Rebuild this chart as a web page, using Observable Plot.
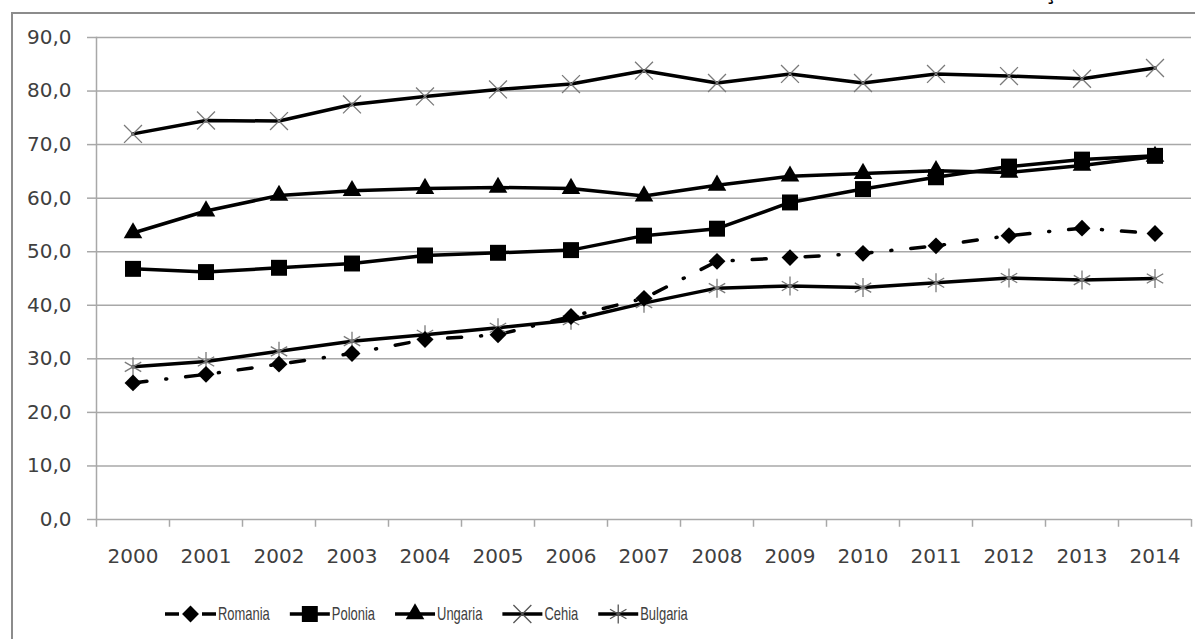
<!DOCTYPE html>
<html>
<head>
<meta charset="utf-8">
<script src="https://cdn.jsdelivr.net/npm/d3@7"></script>
<script src="https://cdn.jsdelivr.net/npm/@observablehq/plot@0.6"></script>
<style>
  html, body { margin: 0; padding: 0; background: #fff; }
  body { width: 1195px; height: 639px; overflow: hidden; position: relative; }
  #frame { position: absolute; left: 11px; top: 12px; width: 1400px; height: 900px; border: 2px solid #8c8c8c; box-sizing: border-box; }
  #chart { position: absolute; left: 0; top: 0; }
  #legend { position: absolute; left: 0; top: 594px; }
  #cut { position: absolute; left: 1046px; top: -19px; font: bold 20px "DejaVu Sans", sans-serif; color: #000; }
</style>
</head>
<body>
<div id="frame"></div>
<div id="cut">ţ</div>
<div id="chart"></div>
<svg id="legend" width="1195" height="40"></svg>
<script>
// ---- data ----
const years    = [2000, 2001, 2002, 2003, 2004, 2005, 2006, 2007, 2008, 2009, 2010, 2011, 2012, 2013, 2014];
const romania  = [25.5, 27.1, 29.0, 31.0, 33.6, 34.5, 37.9, 41.3, 48.2, 48.9, 49.7, 51.1, 53.0, 54.4, 53.4];
const polonia  = [46.8, 46.2, 47.0, 47.8, 49.3, 49.8, 50.3, 53.0, 54.3, 59.2, 61.7, 63.9, 65.9, 67.2, 67.9];
const ungaria  = [53.5, 57.6, 60.5, 61.4, 61.8, 62.0, 61.8, 60.4, 62.4, 64.1, 64.6, 65.1, 64.8, 66.1, 67.8];
const cehia    = [72.0, 74.5, 74.4, 77.5, 79.0, 80.3, 81.3, 83.8, 81.5, 83.2, 81.5, 83.2, 82.8, 82.3, 84.3];
const bulgaria = [28.5, 29.5, 31.4, 33.3, 34.5, 35.8, 37.2, 40.4, 43.2, 43.6, 43.3, 44.2, 45.1, 44.7, 45.0];
const seriesNames = ["Romania", "Polonia", "Ungaria", "Cehia", "Bulgaria"];
const yTicks = [0, 10, 20, 30, 40, 50, 60, 70, 80, 90];

// ---- build table ----
const seriesValues = [romania, polonia, ungaria, cehia, bulgaria];
const rows = seriesNames.flatMap((name, i) =>
  years.map((year, j) => ({series: name, year, value: seriesValues[i][j]})));
const of = name => rows.filter(d => d.series === name);
const bounds = years.map(y => y - 0.5).concat([years[years.length - 1] + 0.5]);

const GRID = "#a8a8a8";
const TEXT = "#404040";
const MARK_GRAY = "#7a7a7a";
const dashRomania = "14,19,1,19";

const chart = Plot.plot({
  width: 1195,
  height: 580,
  marginLeft: 96,
  marginRight: 4,
  marginTop: 37,
  marginBottom: 61,
  x: {domain: [bounds[0], bounds[bounds.length - 1]]},
  y: {domain: [0, 90]},
  style: {fontFamily: "'DejaVu Sans', sans-serif", fontSize: "20px", color: TEXT, background: "transparent", overflow: "visible"},
  marks: [
    Plot.gridY(yTicks, {stroke: GRID, strokeOpacity: 1, strokeWidth: 1.5}),
    Plot.frame({anchor: "left", stroke: GRID, strokeWidth: 1.5}),
    Plot.ruleX(bounds, {y1: 0, y2: -1.45, stroke: GRID, strokeWidth: 1.5}),
    Plot.axisY(yTicks, {tickSize: 9, tickPadding: 16, stroke: GRID, strokeWidth: 1.5, fill: TEXT, label: null,
      tickFormat: d => d.toFixed(1).replace(".", ",")}),
    Plot.axisX(years, {tickSize: 0, tickPadding: 29, fill: TEXT, label: null, tickFormat: d => String(d)}),
    // lines
    Plot.line(rows.filter(d => d.series !== "Romania"), {x: "year", y: "value", z: "series", stroke: "black", strokeWidth: 3.5, strokeLinejoin: "round"}),
    Plot.line(of("Romania"), {x: "year", y: "value", stroke: "black", strokeWidth: 3.5, strokeDasharray: dashRomania, strokeLinecap: "round"}),
    // markers
    Plot.dot(of("Cehia"), {x: "year", y: "value", symbol: "times", r: 8.2, stroke: MARK_GRAY, strokeWidth: 1.3, fill: "none"}),
    Plot.dot(of("Bulgaria"), {x: "year", y: "value", symbol: "asterisk", r: 9, stroke: MARK_GRAY, strokeWidth: 1.3, fill: "none"}),
    Plot.dot(of("Ungaria"), {x: "year", y: "value", symbol: "triangle", r: 6.9, fill: "black", stroke: "none"}),
    Plot.dot(of("Polonia"), {x: "year", y: "value", symbol: "square", r: 9, fill: "black", stroke: "none"}),
    Plot.dot(of("Romania"), {x: "year", y: "value", symbol: "diamond2", r: 7.6, fill: "black", stroke: "none"})
  ]
});
document.getElementById("chart").appendChild(chart);

// ---- legend ----
const legendSpec = [
  {name: "Romania",  symbol: d3.symbolDiamond2, r: 7.6, fill: "black", stroke: "none", dash: "14,23,14", w: 51},
  {name: "Polonia",  symbol: d3.symbolSquare,   r: 9,   fill: "black", stroke: "none", dash: null, w: 40},
  {name: "Ungaria",  symbol: d3.symbolTriangle, r: 6.9, fill: "black", stroke: "none", dash: null, w: 40},
  {name: "Cehia",    symbol: d3.symbolTimes,    r: 8.2, fill: "none",  stroke: "#555", dash: null, w: 40},
  {name: "Bulgaria", symbol: d3.symbolAsterisk, r: 9,   fill: "none",  stroke: "#555", dash: null, w: 40}
];
const legend = d3.select("#legend");
const cy = 20;
const textScale = 0.72;
let lx = 165;
for (const item of legendSpec) {
  const g = legend.append("g").attr("transform", `translate(${lx},${cy})`);
  g.append("line").attr("x1", 0).attr("x2", item.w).attr("y1", 0).attr("y2", 0)
    .attr("stroke", "black").attr("stroke-width", 3.5)
    .attr("stroke-dasharray", item.dash);
  g.append("path").attr("transform", `translate(${item.w / 2},0)`)
    .attr("d", d3.symbol(item.symbol, Math.PI * item.r * item.r)())
    .attr("fill", item.fill).attr("stroke", item.stroke).attr("stroke-width", 1.3);
  const t = g.append("text")
    .attr("transform", `translate(${item.w + 2},0) scale(${textScale},1)`)
    .attr("dy", "0.36em")
    .attr("font-family", "'Liberation Sans', sans-serif")
    .attr("font-size", 18)
    .attr("fill", TEXT)
    .text(item.name);
  const tw = t.node().getComputedTextLength() * textScale;
  lx += item.w + 2 + tw + 20;
}
</script>
</body>
</html>
